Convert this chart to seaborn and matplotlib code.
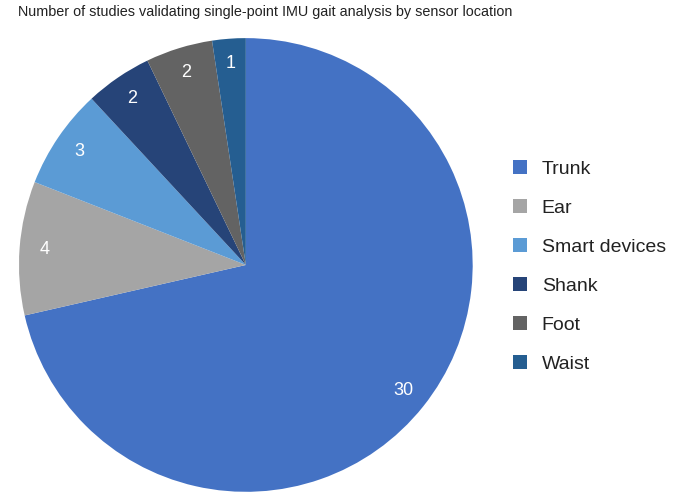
import matplotlib
matplotlib.use("Agg")
import matplotlib.pyplot as plt
import seaborn as sns
import numpy as np

locations = ["Trunk", "Ear", "Smart devices", "Shank", "Foot", "Waist"]
studies = [30, 4, 3, 2, 2, 1]
colors = ["#4472C4", "#A5A5A5", "#5B9BD5", "#264478", "#636363", "#255E91"]
title = "Number of studies validating single-point IMU gait analysis by sensor location"

sns.set_style("white")
plt.rcParams["font.family"] = ["Liberation Sans", "DejaVu Sans"]

fig = plt.figure(figsize=(6.98, 4.99), dpi=100)
ax = fig.add_axes([0.0272, 0.014, 0.650, 0.910])

wedges, _ = ax.pie(studies, colors=colors, startangle=90, counterclock=False,
                   wedgeprops=dict(linewidth=0))
# value labels inside each wedge
for w, v in zip(wedges, studies):
    mid = np.deg2rad((w.theta1 + w.theta2) / 2)
    ax.text(0.89 * np.cos(mid), 0.89 * np.sin(mid), str(v), color="white",
            fontsize=13, ha="center", va="center")
ax.set_xlim(-1, 1)
ax.set_ylim(-1, 1)
ax.set_aspect("equal")

fig.text(0.026, 0.975, title, fontsize=10.35, ha="left", va="center", color="#222222")

fig.legend(wedges, locations, loc="center left", bbox_to_anchor=(0.71, 0.466),
           frameon=False, fontsize=14, handlelength=0.72, handleheight=0.72,
           handletextpad=0.75, labelspacing=1.1, labelcolor="#222222")

fig.savefig("out.png", dpi=100)
